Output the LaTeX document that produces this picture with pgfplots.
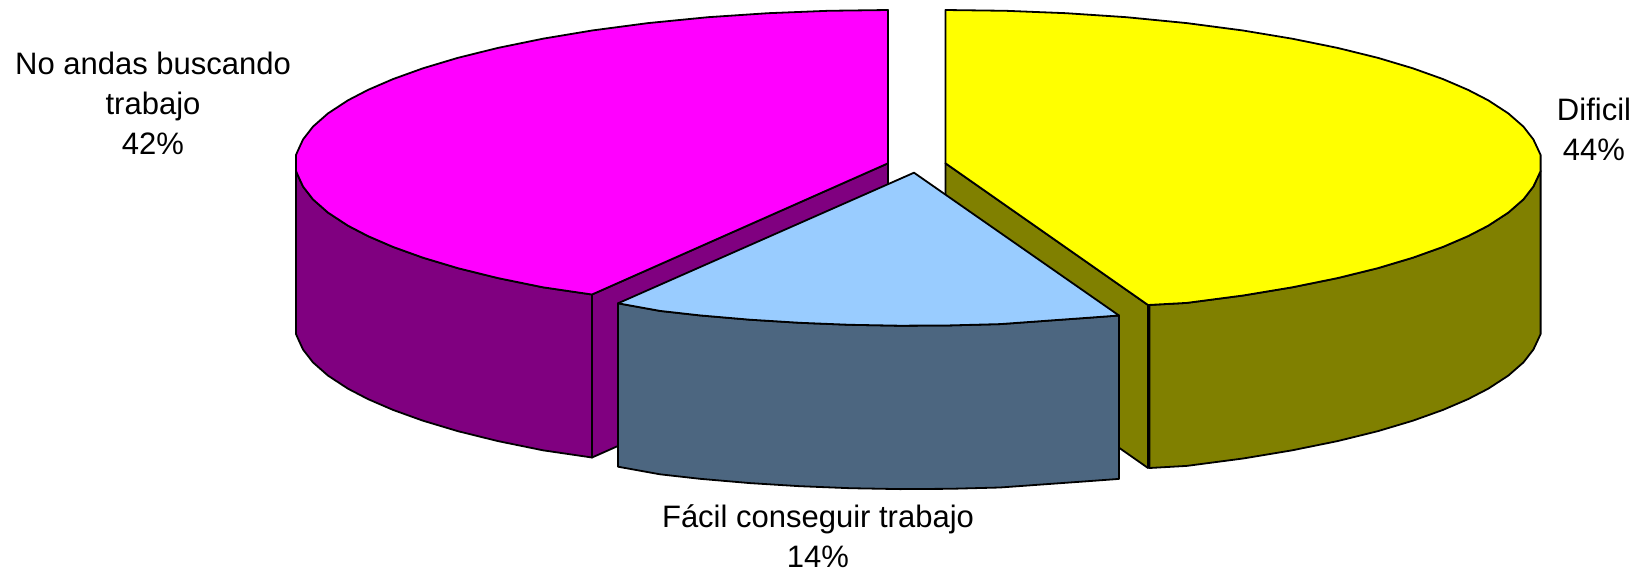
\documentclass[border=0pt]{standalone}
\usepackage{pgfplots}
\pgfplotsset{compat=1.18}
\usepackage{fontspec}
\setmainfont{Liberation Sans}
\definecolor{pmag}{HTML}{FF00FF}
\definecolor{pmagd}{HTML}{800080}
\definecolor{pyel}{HTML}{FFFF00}
\definecolor{pyeld}{HTML}{808000}
\definecolor{pblu}{HTML}{99CCFF}
\definecolor{pblud}{HTML}{4C6680}
\tikzset{lbl/.style={font=\fontsize{31}{#1}\selectfont, align=center, inner sep=0pt, text=black}}
\begin{document}
\begin{tikzpicture}
\path[use as bounding box] (0,0) rectangle (1643pt,573pt);
\begin{axis}[
    at={(0,0)}, anchor=south west,
    scale only axis, width=1643pt, height=573pt,
    xmin=0, xmax=1643, ymin=0, ymax=573,
    y dir=reverse,
    hide axis, clip=false,
    every axis plot/.append style={draw=black, line width=1.8pt, line join=round, mark=none},
]
% magenta slice: inner wall, outer wall, top
\addplot[fill=pmagd] coordinates {(592,294.5) (888,163.3) (888,326.3) (592,457.5)} --cycle;
\addplot[fill=pmagd] coordinates {
    (296,171) (298,175.6) (303,186.5) (313,199.4) (328,212.6) (348,225.7) (368,236.1) (393,246.9)
    (423,257.7) (458,268.2) (498,278.1) (543,287.3) (592,294.5)
    (592,457.5) (543,450.3) (498,441.1) (458,431.2) (423,420.7) (393,409.9) (368,399.1) (348,388.7)
    (328,375.6) (313,362.4) (303,349.5) (298,338.6) (296,334)} --cycle;
\addplot[fill=pmag] coordinates {
    (888,10) (828,10.8) (768,13.2) (708,17.2) (648,23.1) (592,30.5) (543,38.7) (498,47.9) (458,57.8)
    (423,68.3) (393,79.1) (368,89.9) (348,100.3) (328,113.4) (313,126.6) (303,139.5) (298,150.4)
    (296,155) (296,171) (298,175.6) (303,186.5) (313,199.4) (328,212.6) (348,225.7) (368,236.1)
    (393,246.9) (423,257.7) (458,268.2) (498,278.1) (543,287.3) (592,294.5) (888,163.3)} --cycle;
% yellow slice
\addplot[fill=pyeld] coordinates {(945.5,163.3) (1148,305) (1148,468) (945.5,326.3)} --cycle;
\addplot[fill=pyeld] coordinates {
    (1149.5,305) (1186.7,302.9) (1243,295.5) (1292.2,287.3) (1337.5,278.1) (1377.7,268.2) (1412.8,257.7)
    (1443,246.9) (1468.1,236.1) (1488.2,225.7) (1508.3,212.6) (1523.4,199.4) (1533.4,186.5) (1538.5,175.6)
    (1540.6,171)
    (1540.6,334) (1538.5,338.6) (1533.4,349.5) (1523.4,362.4) (1508.3,375.6) (1488.2,388.7) (1468.1,399.1)
    (1443,409.9) (1412.8,420.7) (1377.7,431.2) (1337.5,441.1) (1292.2,450.3) (1243,458.5) (1186.7,465.9)
    (1149.5,468)} --cycle;
\addplot[fill=pyel] coordinates {
    (945.5,10) (1005.8,10.8) (1066.1,13.2) (1126.4,17.2) (1186.7,23.1) (1243,30.5) (1292.2,38.7)
    (1337.5,47.9) (1377.7,57.8) (1412.8,68.3) (1443,79.1) (1468.1,89.9) (1488.2,100.3) (1508.3,113.4)
    (1523.4,126.6) (1533.4,139.5) (1538.5,150.4) (1540.6,155) (1540.6,171) (1538.5,175.6) (1533.4,186.5)
    (1523.4,199.4) (1508.3,212.6) (1488.2,225.7) (1468.1,236.1) (1443,246.9) (1412.8,257.7) (1377.7,268.2)
    (1337.5,278.1) (1292.2,287.3) (1243,295.5) (1186.7,302.9) (1148,305) (945.5,163.3)} --cycle;
% light blue slice
\addplot[fill=pblud] coordinates {
    (618,303.3) (660,310.9) (700,315.4) (750,319.7) (800,322.8) (850,324.8) (900,325.7) (950,325.4)
    (1000,324.1) (1050,320.5) (1085,318) (1119,315.5)
    (1119,478.9) (1085,481.4) (1050,483.9) (1000,487.5) (950,488.8) (900,489.1) (850,488.2) (800,486.2)
    (750,483.1) (700,478.8) (660,474.3) (618,466.7)} --cycle;
\addplot[fill=pblu] coordinates {
    (914,172.7) (618,303.3) (660,310.9) (700,315.4) (750,319.7) (800,322.8) (850,324.8) (900,325.7)
    (950,325.4) (1000,324.1) (1050,320.5) (1085,318) (1119,315.5)} --cycle;
\node[lbl=40] at (axis cs:153,103.5) {No andas buscando\\trabajo\\42\%};
\node[lbl=40] at (axis cs:1594,129) {Dificil\\44\%};
\node[lbl=40] at (axis cs:818,536) {Fácil conseguir trabajo\\14\%};
\end{axis}
\end{tikzpicture}
\end{document}
